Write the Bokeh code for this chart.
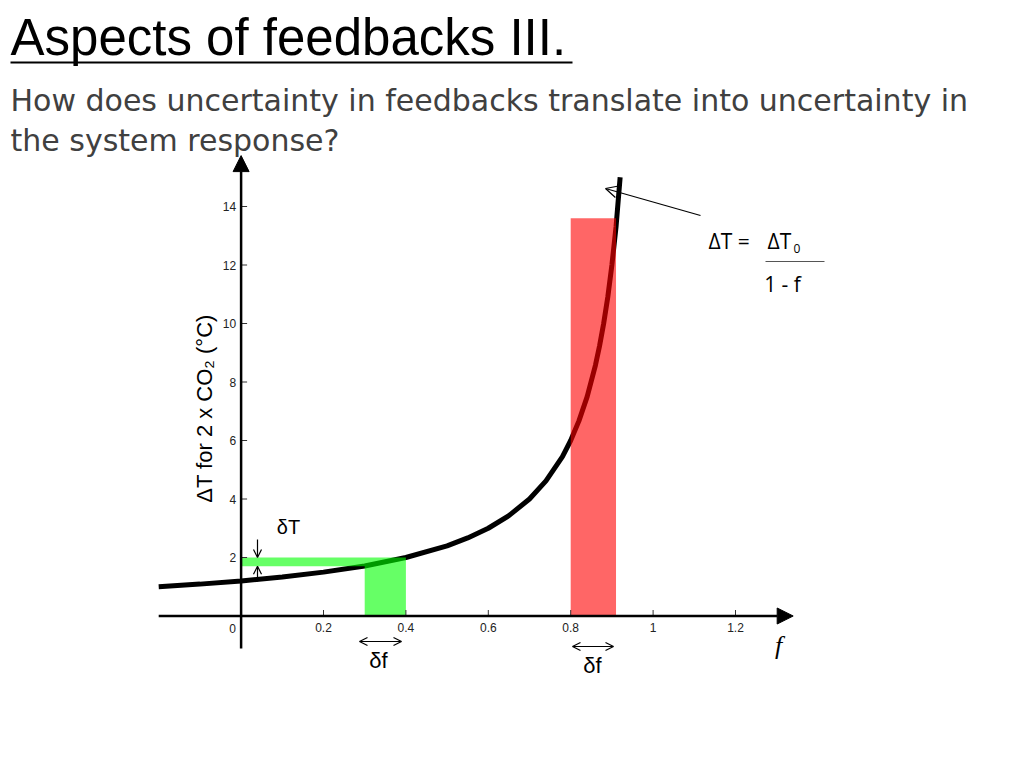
from bokeh.plotting import figure
from bokeh.models import Range1d, Label, Arrow, NormalHead, OpenHead
from bokeh.embed import file_html
from bokeh.resources import INLINE

# ---------------- data ----------------
# climate sensitivity curve: feedback f vs ΔT (°C)
curve_f = [-0.2, -0.1, 0.0, 0.1, 0.2, 0.3, 0.4, 0.5, 0.55, 0.6, 0.65, 0.7, 0.74,
           0.78, 0.8, 0.82, 0.84, 0.86, 0.87, 0.88, 0.89, 0.9, 0.91, 0.92]
curve_dT = [1.0, 1.09, 1.2, 1.33, 1.5, 1.71, 2.0, 2.4, 2.67, 3.0, 3.43, 4.0, 4.62,
            5.45, 6.0, 6.67, 7.5, 8.57, 9.23, 10.0, 10.9, 12.0, 13.3, 15.0]

# low-feedback uncertainty (green): δf range and resulting δT range
low_df = [0.3, 0.4]
low_dT = [1.7, 2.0]
# high-feedback uncertainty (red): δf range and the top of the bar
high_df = [0.8, 0.91]
high_top = 13.6

x_ticks = [0.2, 0.4, 0.6, 0.8, 1.0, 1.2]
x_tick_labels = ["0.2", "0.4", "0.6", "0.8", "1", "1.2"]
y_ticks = [2, 4, 6, 8, 10, 12, 14]
y_tick_labels = ["2", "4", "6", "8", "10", "12", "14"]

x_axis_ext = [-0.2, 1.34]
y_axis_ext = [-1.11, 15.74]

# ---------------- page geometry ----------------
W, H = 1008, 752
OFF = 0           # observed offset of canvas on the photographed page
PX_X = 412.0      # pixels per unit f
PX_Y = 29.25      # pixels per unit ΔT
X0_PAGE = 240.6   # page px of f = 0
Y0_PAGE = 615.5   # page px of ΔT = 0
xs = -(X0_PAGE - OFF) / PX_X
xe = xs + W / PX_X
ye = (Y0_PAGE - OFF) / PX_Y
ys = ye - H / PX_Y


def X(px):
    return xs + (px - OFF) / PX_X


def Y(py):
    return ye - (py - OFF) / PX_Y


p = figure(width=W, height=H, output_backend="svg", toolbar_location=None,
           x_range=Range1d(xs, xe), y_range=Range1d(ys, ye),
           min_border=0, min_border_left=0, min_border_right=0,
           min_border_top=0, min_border_bottom=0)
p.axis.visible = False
p.grid.visible = False
p.outline_line_color = None
p.background_fill_color = "white"
p.border_fill_color = "white"


def txt(px, py, text, size, font="Liberation Sans", align="left",
        baseline="middle", color="black", angle=0, style="normal"):
    p.add_layout(Label(x=X(px), y=Y(py), text=text, text_font=font,
                       text_font_size=f"{size}px", text_align=align,
                       text_baseline=baseline, text_color=color, angle=angle,
                       text_font_style=style))


# ---------------- title ----------------
txt(10, 37, "Aspects of feedbacks III.", 51, font="Liberation Sans")
p.line([X(10), X(572)], [Y(62), Y(62)], line_color="black", line_width=2)
txt(10, 100, "How does uncertainty in feedbacks translate into uncertainty in", 30,
    font="DejaVu Sans", color="#404040")
txt(10, 140, "the system response?", 30, font="DejaVu Sans", color="#404040")

# ---------------- curve ----------------
p.line(curve_f, curve_dT, line_color="black", line_width=5)

# ---------------- uncertainty bands ----------------
p.patch([0, low_df[1], low_df[1], low_df[0], low_df[0], 0],
        [low_dT[1], low_dT[1], 0, 0, low_dT[0], low_dT[0]],
        fill_color="#00ff00", fill_alpha=0.6, line_color=None)
p.quad(left=[high_df[0]], right=[high_df[1]], bottom=[0], top=[high_top],
       fill_color="#ff0000", fill_alpha=0.6, line_color=None)

# ---------------- axes ----------------
p.add_layout(Arrow(end=NormalHead(size=16, fill_color="black", line_color="black"),
                   x_start=x_axis_ext[0], y_start=0, x_end=x_axis_ext[1], y_end=0,
                   line_width=2.5, line_color="black"))
p.add_layout(Arrow(end=NormalHead(size=16, fill_color="black", line_color="black"),
                   x_start=0, y_start=y_axis_ext[0], x_end=0, y_end=y_axis_ext[1],
                   line_width=2.5, line_color="black"))

tick_len_y = 6 / PX_Y
tick_len_x = 6 / PX_X
p.segment(x0=x_ticks, y0=[0] * len(x_ticks), x1=x_ticks,
          y1=[tick_len_y] * len(x_ticks), line_color="#333333", line_width=1)
p.segment(x0=[0] * len(y_ticks), y0=y_ticks, x1=[tick_len_x] * len(y_ticks),
          y1=y_ticks, line_color="#333333", line_width=1)

for xv, lab in zip(x_ticks, x_tick_labels):
    p.add_layout(Label(x=xv, y=Y(Y0_PAGE + 11), text=lab, text_font="Liberation Sans",
                       text_font_size="12px", text_align="center",
                       text_baseline="middle", text_color="#222222"))
for yv, lab in zip(y_ticks, y_tick_labels):
    p.add_layout(Label(x=X(X0_PAGE - 5), y=yv, text=lab, text_font="Liberation Sans",
                       text_font_size="12px", text_align="right",
                       text_baseline="middle", text_color="#222222"))
txt(232, 628, "0", 12, align="center", color="#222222")

# y-axis title
txt(204, 408, "ΔT for 2 x CO₂ (°C)", 22, align="center", angle=1.5708)
# x-axis symbol
txt(778, 645, "f", 26, font="Liberation Serif", align="center", style="italic")

# ---------------- δT / δf markers ----------------
p.add_layout(Arrow(end=OpenHead(size=8, line_width=1.2), x_start=X(257), y_start=Y(539),
                   x_end=X(257), y_end=low_dT[1], line_width=1.2))
p.add_layout(Arrow(end=OpenHead(size=8, line_width=1.2), x_start=X(257), y_start=Y(581),
                   x_end=X(257), y_end=low_dT[0], line_width=1.2))
txt(288, 526, "δT", 20, align="center")

p.add_layout(Arrow(start=OpenHead(size=8, line_width=1.2), end=OpenHead(size=8, line_width=1.2),
                   x_start=X(359), y_start=Y(641), x_end=X(401), y_end=Y(641),
                   line_width=1.2))
txt(378, 660, "δf", 22, align="center")
p.add_layout(Arrow(start=OpenHead(size=8, line_width=1.2), end=OpenHead(size=8, line_width=1.2),
                   x_start=X(572), y_start=Y(646), x_end=X(613), y_end=Y(646),
                   line_width=1.2))
txt(592, 665, "δf", 22, align="center")

# ---------------- formula annotation ----------------
p.add_layout(Arrow(end=OpenHead(size=12, line_width=1.2), x_start=X(700), y_start=Y(215),
                   x_end=X(605), y_end=Y(188), line_width=1.2))
txt(708, 240, "ΔT =", 21, font="Open Sans")
txt(767, 240, "ΔT", 21, font="Open Sans")
txt(793, 248, "0", 12, font="Open Sans")
p.line([X(765), X(824)], [Y(261), Y(261)], line_color="#555555", line_width=1)
txt(782, 283, "1 - f", 21, font="Open Sans", align="center")

open("out.html", "w").write(file_html(p, INLINE))
